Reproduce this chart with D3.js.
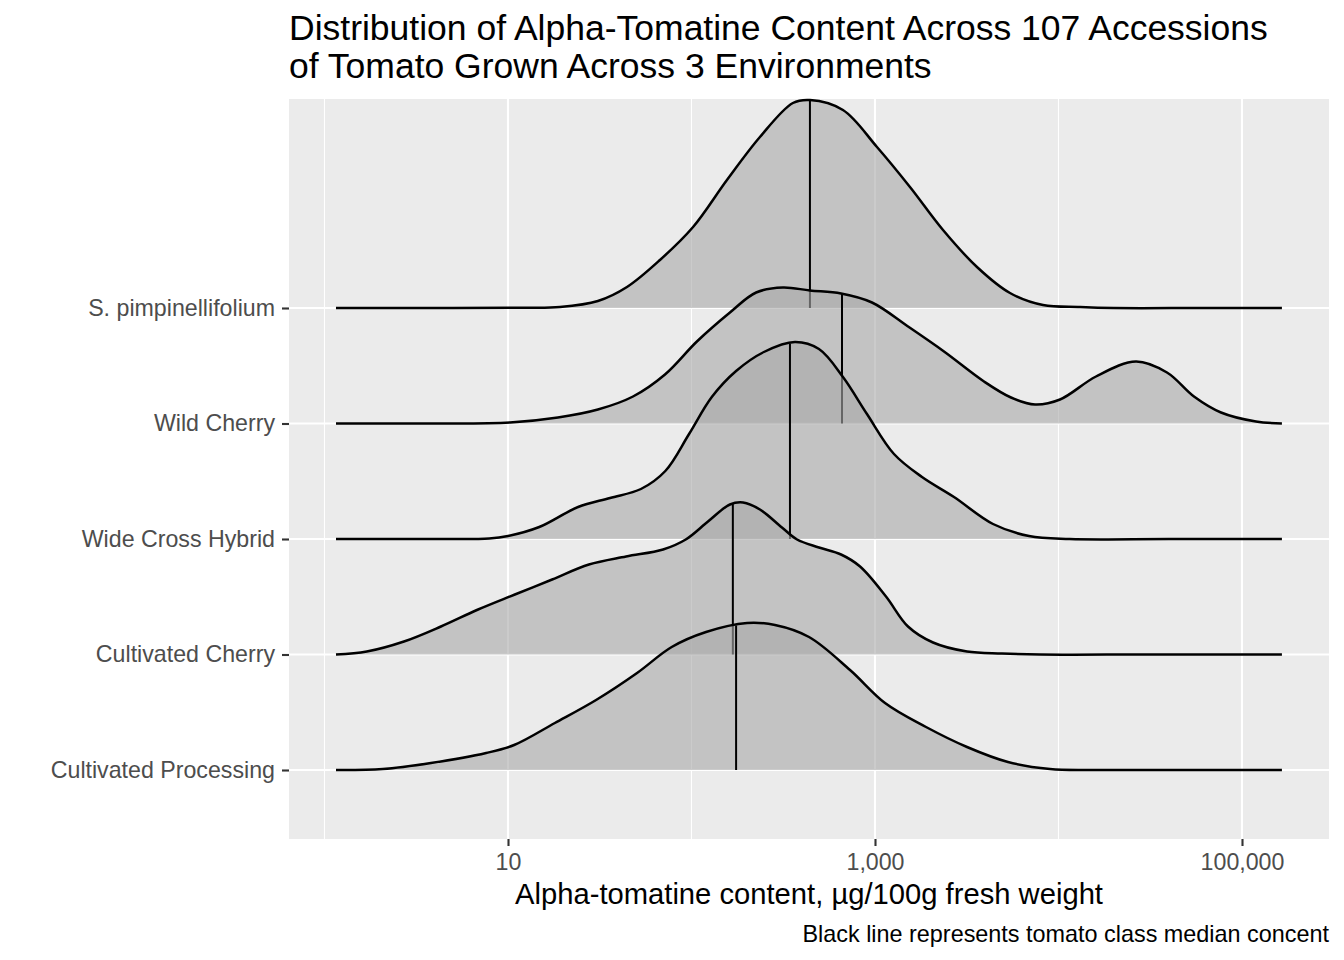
<!DOCTYPE html>
<html>
<head>
<meta charset="utf-8">
<script src="https://cdn.jsdelivr.net/npm/d3@7"></script>
<style>
  body { margin: 0; background: #fff; }
  text { font-family: "Liberation Sans", Arial, Helvetica, sans-serif; }
</style>
</head>
<body>
<svg id="chart" width="1344" height="960"></svg>
<script>
// categories bottom -> top
const categories = ["Cultivated Processing", "Cultivated Cherry", "Wide Cross Hybrid", "Wild Cherry", "S. pimpinellifolium"];

// [alpha-tomatine ug/100g, density]
const cultivatedProcessing = [[1.155,0],[2.08,0.01],[3.8,0.07],[7.6,0.17],[10.8,0.25],[18,0.47],[30.2,0.70],[50.5,0.97],[78,1.23],[120,1.38],[201,1.47],[285,1.45],[437,1.33],[731,1.00],[1134,0.67],[1897,0.43],[3173,0.23],[5306,0.08],[8990,0.01],[14850,0],[40000,0],[165000,0]];
const cultivatedCherry = [[1.155,0],[1.7,0.03],[2.71,0.13],[4.31,0.28],[6.87,0.45],[10.9,0.60],[17.4,0.75],[27.6,0.90],[44,0.98],[70,1.05],[93,1.15],[123,1.33],[162,1.50],[191,1.52],[236,1.45],[311,1.27],[376,1.15],[495,1.07],[653,1.00],[829,0.88],[1148,0.58],[1513,0.28],[2071,0.12],[3173,0.03],[4921,0.01],[7930,0],[30000,0],[165000,0]];
const wideCrossHybrid = [[1.155,0],[4,0],[7.9,0.005],[10,0.03],[14.8,0.12],[24.1,0.32],[36,0.41],[53,0.50],[72,0.68],[97,1.05],[129,1.42],[175,1.68],[248,1.87],[366,1.97],[495,1.90],[669,1.62],[904,1.25],[1269,0.85],[1804,0.62],[2695,0.42],[4397,0.15],[6907,0.03],[11500,0],[40000,0],[165000,0]];
const wildCherry = [[1.155,0],[4,0],[10.25,0.01],[18.7,0.06],[30.9,0.14],[48,0.27],[71.7,0.49],[107,0.82],[162,1.11],[225,1.31],[315,1.36],[442,1.33],[653,1.30],[963,1.21],[1513,0.97],[2377,0.72],[3927,0.42],[5509,0.26],[7446,0.19],[10190,0.24],[16010,0.47],[26440,0.62],[39010,0.51],[54740,0.27],[76850,0.11],[119200,0.02],[165000,0]];
const pimpinellifolium = [[1.155,0],[5,0],[12,0.003],[19.2,0.01],[30.9,0.07],[44.5,0.21],[67.3,0.48],[102,0.81],[156,1.28],[236,1.71],[357,2.05],[442,2.08],[669,1.98],[1025,1.61],[1551,1.21],[2348,0.78],[3596,0.41],[5441,0.15],[8233,0.03],[13100,0.01],[20000,0],[60000,0],[165000,0]];
const densities = [cultivatedProcessing, cultivatedCherry, wideCrossHybrid, wildCherry, pimpinellifolium];

// class medians, same order as categories
const medians = [175, 168, 344, 661, 442];

const xTicks = [10, 1000, 100000];
const xMinor = [1, 100, 10000];

const titleLines = ["Distribution of Alpha-Tomatine Content Across 107 Accessions", "of Tomato Grown Across 3 Environments"];
const xTitle = "Alpha-tomatine content, \u00b5g/100g fresh weight";
const caption = "Black line represents tomato class median concent";

const svg = d3.select("#chart");
const panel = {left: 289, right: 1329, top: 99, bottom: 839};

svg.append("rect")
  .attr("x", panel.left).attr("y", panel.top)
  .attr("width", panel.right - panel.left).attr("height", panel.bottom - panel.top)
  .style("fill", "#ebebeb");

let x = d3.scaleLog().domain([10, 100000]).range([508, 1242]);
let yBase = d3.scalePoint().domain(categories).range([770, 308]);
let h = d3.scaleLinear().domain([0, 1]).range([0, 100]);

svg.selectAll("line.minor")
  .data(xMinor)
  .enter().append("line")
  .attr("class", "minor")
  .attr("x1", x).attr("x2", x)
  .attr("y1", panel.top).attr("y2", panel.bottom)
  .style("stroke", "#fff").style("stroke-width", 1.1);

svg.selectAll("line.xmajor")
  .data(xTicks)
  .enter().append("line")
  .attr("class", "xmajor")
  .attr("x1", x).attr("x2", x)
  .attr("y1", panel.top).attr("y2", panel.bottom)
  .style("stroke", "#fff").style("stroke-width", 2.1);

svg.selectAll("line.ymajor")
  .data(categories)
  .enter().append("line")
  .attr("class", "ymajor")
  .attr("x1", panel.left).attr("x2", panel.right)
  .attr("y1", yBase).attr("y2", yBase)
  .style("stroke", "#fff").style("stroke-width", 2.1);

// ridges, top category first so lower ones overlap
const order = d3.range(categories.length).reverse();

order.forEach(i => {
  const cat = categories[i];
  const data = densities[i];
  const base = yBase(cat);
  const g = svg.append("g").attr("class", "ridge");

  let area = d3.area()
    .x(d => x(d[0]))
    .y0(base)
    .y1(d => base - h(d[1]))
    .curve(d3.curveCatmullRom.alpha(0.5));

  let line = d3.line()
    .x(d => x(d[0]))
    .y(d => base - h(d[1]))
    .curve(d3.curveCatmullRom.alpha(0.5));

  g.append("path")
    .attr("d", area(data))
    .style("fill", "#a9a9a9")
    .style("fill-opacity", 0.6);

  // median line up to the density curve
  const m = medians[i];
  const k = d3.bisector(d => d[0]).left(data, m);
  const a = data[k - 1], b = data[k];
  const t = (Math.log10(m) - Math.log10(a[0])) / (Math.log10(b[0]) - Math.log10(a[0]));
  const dm = a[1] + t * (b[1] - a[1]);

  g.append("line")
    .attr("x1", x(m)).attr("x2", x(m))
    .attr("y1", base).attr("y2", base - h(dm))
    .style("stroke", "#000").style("stroke-width", 2);

  g.append("path")
    .attr("d", line(data))
    .style("fill", "none")
    .style("stroke", "#000")
    .style("stroke-width", 2.5)
    .style("stroke-linejoin", "round");
});

// axes
let xAxis = d3.axisBottom(x).tickValues(xTicks).tickFormat(d3.format(",")).tickSize(7).tickPadding(8);
let gx = svg.append("g").attr("transform", "translate(0," + panel.bottom + ")").call(xAxis);

let yAxis = d3.axisLeft(yBase).tickSize(7).tickPadding(7);
let gy = svg.append("g").attr("transform", "translate(" + panel.left + ",0)").call(yAxis);

[gx, gy].forEach(g => {
  g.select(".domain").remove();
  g.selectAll(".tick line").style("stroke", "#333").style("stroke-width", 2.1);
  g.selectAll(".tick text")
    .style("fill", "#4d4d4d")
    .style("font-size", "23.2px")
    .style("font-family", "\"Liberation Sans\", Arial, sans-serif");
});

svg.selectAll("text.title")
  .data(titleLines)
  .enter().append("text")
  .attr("class", "title")
  .attr("x", panel.left)
  .attr("y", (d, i) => 40 + i * 38)
  .style("font-size", "35.5px")
  .style("fill", "#000")
  .text(d => d);

svg.append("text")
  .attr("x", (panel.left + panel.right) / 2)
  .attr("y", 904)
  .attr("text-anchor", "middle")
  .style("font-size", "29.2px")
  .style("fill", "#000")
  .text(xTitle);

svg.append("text")
  .attr("x", panel.right)
  .attr("y", 942)
  .attr("text-anchor", "end")
  .style("font-size", "23.4px")
  .style("fill", "#000")
  .text(caption);
</script>
</body>
</html>
